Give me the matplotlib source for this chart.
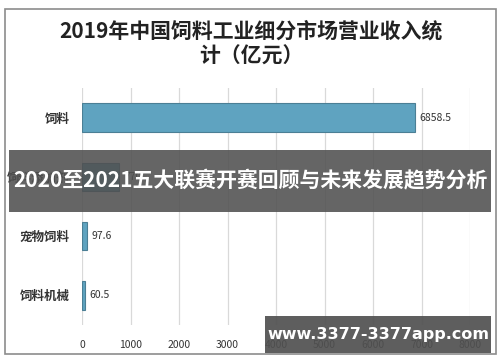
import matplotlib
matplotlib.use("Agg")
import matplotlib.pyplot as plt
from matplotlib.patches import Rectangle

plt.rcParams['font.family'] = ['Noto Sans CJK SC', 'DejaVu Sans']

categories = ['饲料', '饲料添加剂', '宠物饲料', '饲料机械']
values = [6858.5, 770.0, 97.6, 60.5]
ticks = [0, 1000, 2000, 3000, 4000, 5000, 6000, 7000, 8000]
title = '2019年中国饲料工业细分市场营业收入统\n计（亿元）'
banner = '2020至2021五大联赛开赛回顾与未来发展趋势分析'
site = 'www.3377-3377app.com'

fig = plt.figure(figsize=(5, 3.62), dpi=100)
fig.patch.set_facecolor('white')

# outer frame
fig.add_artist(Rectangle((0.009, 0.022), 0.982, 0.954, transform=fig.transFigure,
                         fill=False, edgecolor='#8c8c8c', linewidth=1.2))

fig.text(0.502, 0.880, title, ha='center', va='center', fontsize=15,
         fontweight='bold', color='#222222', linespacing=1.25)

ax = fig.add_axes([0.164, 0.102, 0.776, 0.655])
y = list(range(len(categories)))
ax.barh(y, values, height=0.48, color='#5fa3c0', edgecolor='#4b7f95', linewidth=0.8, zorder=3)
for yi, v in zip(y, values):
    ax.text(v + 100, yi, f'{v:g}', va='center', ha='left',
            fontsize=7.5, color='#333333', zorder=4)

ax.set_xlim(0, 8000)
ax.set_ylim(len(categories) - 0.5, -0.5)
ax.set_xticks(ticks)
ax.set_xticklabels([str(t) for t in ticks], fontsize=7.5, color='#333333')
ax.set_yticks(y)
ax.set_yticklabels(categories, fontsize=9, fontweight='bold', color='#333333')
ax.tick_params(length=0, pad=9)
ax.tick_params(axis='x', pad=11)
ax.grid(axis='x', color='#d9d9d9', linewidth=0.9, zorder=0)
for s in ax.spines.values():
    s.set_visible(False)

# overlay banner
fig.add_artist(Rectangle((0.018, 0.414), 0.964, 0.171, transform=fig.transFigure,
                         facecolor='#505050', alpha=0.88, edgecolor='none', zorder=10))
fig.text(0.5, 0.50, banner, ha='center', va='center', fontsize=15,
         fontweight='bold', color='white', zorder=11)

# bottom-right site label
fig.add_artist(Rectangle((0.53, 0.025), 0.452, 0.102, transform=fig.transFigure,
                         facecolor='#505050', alpha=0.92, edgecolor='none', zorder=10))
fig.text(0.756, 0.076, site, ha='center', va='center', fontsize=11.5,
         fontweight='bold', color='white', family=['DejaVu Sans'], zorder=11)

fig.savefig('out.png', dpi=100)
